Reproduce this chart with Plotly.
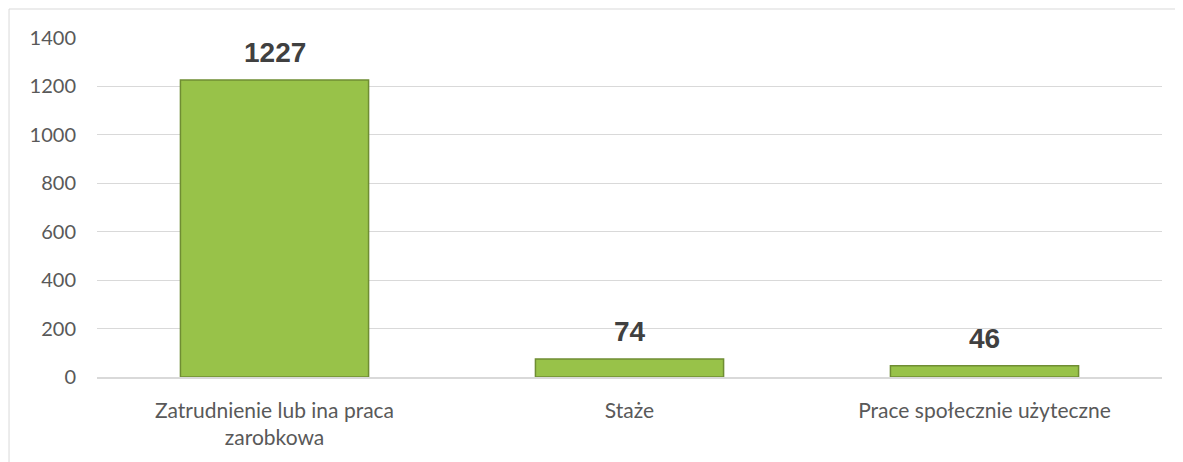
import plotly.graph_objects as go

categories = ["Zatrudnienie lub ina praca<br>zarobkowa", "Staże", "Prace społecznie użyteczne"]
values = [1227, 74, 46]
y_ticks = [0, 200, 400, 600, 800, 1000, 1200, 1400]

fig = go.Figure()
fig.add_trace(go.Bar(
    x=categories, y=values,
    marker=dict(color="#98c249", line=dict(color="#6f8d33", width=1.5)),
    width=0.53,
    hoverinfo="x+y",
))

for c, v in zip(categories, values):
    fig.add_annotation(x=c, y=v, text=f"<b>{v}</b>", showarrow=False,
                       yanchor="bottom", yshift=10,
                       font=dict(family="Arial, Liberation Sans", size=28, color="#404040"))

# outer chart border (top and left visible)
fig.add_shape(type="rect", xref="paper", yref="paper",
              x0=-0.0826, x1=1.05, y0=-0.35, y1=1.0855,
              line=dict(color="#d9d9d9", width=1), layer="below")

fig.update_layout(
    width=1183, height=462,
    margin=dict(l=89, r=29, t=30, b=93),
    plot_bgcolor="white", paper_bgcolor="white",
    font=dict(family="Lato, Noto Sans", size=20, color="#595959"),
    showlegend=False,
)
fig.update_xaxes(showline=True, linecolor="#d9d9d9", linewidth=1.5,
                 ticks="", ticklabelstandoff=14, showgrid=False,
                 tickfont=dict(size=21))
fig.update_yaxes(range=[0, 1400], tickvals=y_ticks, showgrid=True,
                 gridcolor="#d9d9d9", gridwidth=1, zeroline=False,
                 ticks="", ticklabelstandoff=20, showline=False)

fig.write_html("out.html")
